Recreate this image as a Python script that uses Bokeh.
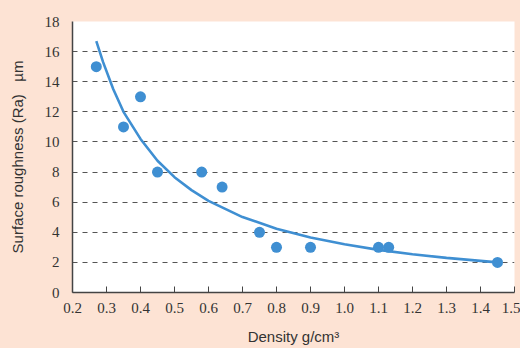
from bokeh.plotting import figure
from bokeh.models import FixedTicker, Range1d, CustomJSTickFormatter
from bokeh.embed import file_html
from bokeh.resources import INLINE

# Measured points
density = [0.27, 0.35, 0.40, 0.45, 0.58, 0.64, 0.75, 0.80, 0.90, 1.10, 1.13, 1.45]
roughness = [15, 11, 13, 8, 8, 7, 4, 3, 3, 3, 3, 2]

# Trend curve
curve_x = [0.27, 0.29, 0.32, 0.35, 0.40, 0.45, 0.50, 0.55, 0.60, 0.70, 0.80, 0.90, 1.00, 1.10, 1.20, 1.30, 1.45]
curve_y = [16.7, 15.3, 13.5, 12.0, 10.2, 8.75, 7.66, 6.80, 6.09, 5.01, 4.24, 3.65, 3.20, 2.83, 2.54, 2.30, 2.00]

x_ticks = [0.2, 0.3, 0.4, 0.5, 0.6, 0.7, 0.8, 0.9, 1.0, 1.1, 1.2, 1.3, 1.4, 1.5]
y_ticks = [0, 2, 4, 6, 8, 10, 12, 14, 16, 18]
grid_ticks = [2, 4, 6, 8, 10, 12, 14, 16]

PEACH = "#FDE3D4"
BLUE = "#3F8FD2"
TICK_FONT = "Liberation Sans Narrow"

p = figure(width=520, height=348, output_backend="svg", toolbar_location=None,
           x_range=Range1d(0.2, 1.5), y_range=Range1d(0, 18),
           min_border_left=72, min_border_right=6, min_border_top=21, min_border_bottom=56)
p.border_fill_color = PEACH
p.background_fill_color = "white"
p.outline_line_color = None

p.line(curve_x, curve_y, line_color=BLUE, line_width=2.6)
p.scatter(density, roughness, size=11, fill_color=BLUE, line_color=None)

p.xgrid.visible = False
p.ygrid.ticker = FixedTicker(ticks=grid_ticks)
p.ygrid.grid_line_color = "#555555"
p.ygrid.grid_line_dash = "5 5"
p.ygrid.grid_line_width = 1

xa = p.xaxis[0]
xa.ticker = FixedTicker(ticks=x_ticks)
xa.formatter = CustomJSTickFormatter(code="return tick.toFixed(1);")
xa.major_tick_in = 6
xa.major_tick_out = 0
xa.minor_tick_line_color = None
xa.axis_line_color = "#444444"
xa.axis_line_width = 1.5
xa.major_tick_line_color = "#444444"
xa.major_label_text_font = TICK_FONT
xa.major_label_text_font_size = "15px"
xa.major_label_text_color = "#333333"
xa.major_label_standoff = 10
xa.axis_label = "Density g/cm³"
xa.axis_label_text_font = "Liberation Sans"
xa.axis_label_text_font_size = "15px"
xa.axis_label_text_font_style = "normal"
xa.axis_label_text_color = "#333333"
xa.axis_label_standoff = 12

ya = p.yaxis[0]
ya.ticker = FixedTicker(ticks=y_ticks)
ya.major_tick_in = 0
ya.major_tick_out = 0
ya.minor_tick_line_color = None
ya.axis_line_color = "#444444"
ya.axis_line_width = 1.5
ya.major_label_text_font = TICK_FONT
ya.major_label_text_font_size = "15px"
ya.major_label_text_color = "#333333"
ya.major_label_standoff = 13
ya.axis_label = "Surface roughness (Ra)\u00a0\u00a0 µm"
ya.axis_label_text_font = "Liberation Sans"
ya.axis_label_text_font_size = "15px"
ya.axis_label_text_font_style = "normal"
ya.axis_label_text_color = "#333333"
ya.axis_label_standoff = 16

html = file_html(p, INLINE)
html = html.replace("<head>", "<head><style>html,body{background:%s;}</style>" % PEACH, 1)
open("out.html", "w").write(html)
